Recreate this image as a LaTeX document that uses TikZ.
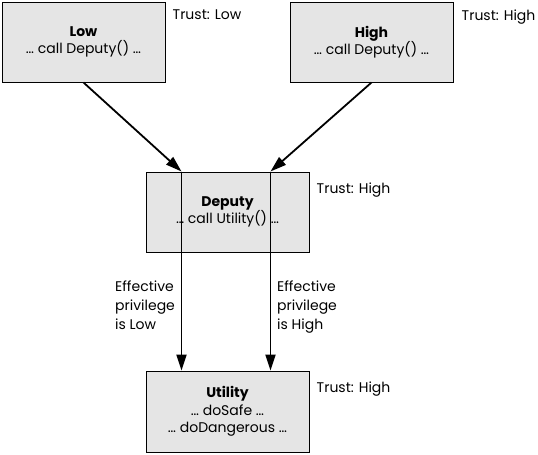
\documentclass[tikz,border=0pt]{standalone}
\usepackage{fontspec}
\setmainfont{Poppins}
\usetikzlibrary{arrows.meta,positioning,calc}

\begin{document}
\begin{tikzpicture}[
  x=1pt, y=-1pt,
  every node/.style={font=\fontsize{14}{18.5}\selectfont},
  module/.style={rectangle, draw=black, line width=1pt, fill=black!10,
                 minimum width=163pt, minimum height=80pt, align=center,
                 inner sep=0pt},
  trust/.style={anchor=north west, inner sep=0pt},
  note/.style={align=left, inner sep=0pt,
               font=\fontsize{14}{19}\selectfont},
  arr/.style={-{Triangle[length=16pt,width=10pt]}, line width=1.8pt}
]
\useasboundingbox (0,0) rectangle (538,455);
% callers
\node[module] (low) at (83.5,42) {\textbf{Low}\\[-1pt]\ldots\ call Deputy() \ldots};
\node[module] (high) at (371.5,42) {\textbf{High}\\[-1pt]\ldots\ call Deputy() \ldots};
% deputy and utility
\node[module] (deputy) at (227.5,212) {\textbf{Deputy}\\[-1pt]\ldots\ call Utility() \ldots};
\node[module, minimum height=81pt] (utility) at (227.5,411.5)
  {\textbf{Utility}\\[-1pt]\ldots\ doSafe \ldots\\[-1pt]\ldots\ doDangerous \ldots};
% trust levels
\node[trust] (lowtrust) at ([xshift=7,yshift=-8]low.north east) {Trust: Low};
\node[trust] (hightrust) at ([xshift=8,yshift=-8]high.north east) {Trust: High};
\node[trust] (deputytrust) at ([xshift=7,yshift=-11]deputy.north east) {Trust: High};
\node[trust] (utilitytrust) at ([xshift=7,yshift=-11]utility.north east) {Trust: High};
% call paths
\coordinate (inlow) at ([xshift=36]deputy.north west);
\coordinate (inhigh) at ([xshift=-39]deputy.north east);
\draw[arr] (low.south) -- (inlow);
\draw[arr] (high.south) -- (inhigh);
\draw[arr] (inlow) -- (inlow |- utility.north);
\draw[arr] (inhigh) -- (inhigh |- utility.north);
\node[note, anchor=north west] (efflow) at (115,281) {Effective\\privilege\\is Low};
\node[note, anchor=north west] (effhigh) at (277,281) {Effective\\privilege\\is High};
\end{tikzpicture}
\end{document}
